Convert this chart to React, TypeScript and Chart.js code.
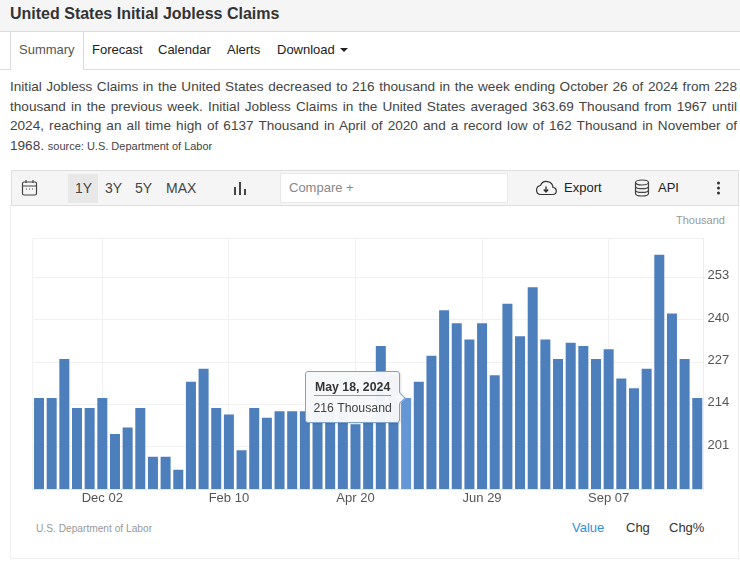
import { useEffect, useRef } from "react";
import Chart from "chart.js/auto";

const weeks = [
  "Oct 28", "Nov 04", "Nov 11", "Nov 18", "Nov 25", "Dec 02", "Dec 09", "Dec 16", "Dec 23", "Dec 30",
  "Jan 06", "Jan 13", "Jan 20", "Jan 27", "Feb 03", "Feb 10", "Feb 17", "Feb 24", "Mar 02", "Mar 09",
  "Mar 16", "Mar 23", "Mar 30", "Apr 06", "Apr 13", "Apr 20", "Apr 27", "May 04", "May 11", "May 18",
  "May 25", "Jun 01", "Jun 08", "Jun 15", "Jun 22", "Jun 29", "Jul 06", "Jul 13", "Jul 20", "Jul 27",
  "Aug 03", "Aug 10", "Aug 17", "Aug 24", "Aug 31", "Sep 07", "Sep 14", "Sep 21", "Sep 28", "Oct 05",
  "Oct 12", "Oct 19", "Oct 26",
];

const claims = [
  216, 216, 228, 213, 213, 216, 205, 207, 213, 198,
  198, 194, 221, 225, 213, 211, 200, 213, 210, 212,
  212, 212, 212, 212, 212, 208, 209, 232, 223, 216,
  221, 229, 243, 239, 234, 239, 223, 245, 235, 250,
  234, 228, 233, 232, 228, 231, 222, 219, 225, 260,
  242, 228, 216,
];

const xTicks = ["Dec 02", "Feb 10", "Apr 20", "Jun 29", "Sep 07"];
const yTicks = [201, 214, 227, 240, 253];
const hoverWeek = "May 18";

const summaryLines = [
  "Initial Jobless Claims in the United States decreased to 216 thousand in the week ending October 26 of 2024 from 228",
  "thousand in the previous week. Initial Jobless Claims in the United States averaged 363.69 Thousand from 1967 until",
  "2024, reaching an all time high of 6137 Thousand in April of 2020 and a record low of 162 Thousand in November of",
];

const FONT = '"Liberation Sans", Arial, sans-serif';

const frame = {
  id: "frame",
  beforeDatasetsDraw(chart: any) {
    const { ctx, chartArea: a } = chart;
    ctx.save();
    ctx.strokeStyle = "#f1f1f1";
    ctx.lineWidth = 1;
    ctx.beginPath();
    ctx.moveTo(a.left, a.bottom);
    ctx.lineTo(a.left, a.top);
    ctx.lineTo(a.right, a.top);
    ctx.stroke();
    ctx.restore();
  },
};

function place(left: number, top: number, extra: any = {}): any {
  return { position: "absolute", left, top, whiteSpace: "nowrap", ...extra };
}

export default function App() {
  const canvasRef = useRef<HTMLCanvasElement>(null);
  const tipRef = useRef<HTMLDivElement>(null);

  useEffect(() => {
    if (!canvasRef.current) return;
    const active = weeks.indexOf(hoverWeek);
    const chart = new Chart(canvasRef.current, {
      type: "bar",
      data: {
        labels: weeks,
        datasets: [
          {
            data: claims,
            backgroundColor: claims.map((_, i) => (i === active ? "#6497d3" : "#4c7fbc")),
            hoverBackgroundColor: claims.map((_, i) => (i === active ? "#6497d3" : "#4c7fbc")),
            barPercentage: 0.79,
            categoryPercentage: 1,
          },
        ],
      },
      plugins: [frame],
      options: {
        responsive: true,
        maintainAspectRatio: false,
        animation: false,
        layout: { padding: { left: 20.7, top: 30.5, right: 0, bottom: 0 } },
        plugins: { legend: { display: false }, tooltip: { enabled: false } },
        scales: {
          x: {
            afterFit: (s: any) => { s.height = 29; },
            grid: {
              offset: false,
              drawTicks: false,
              color: (c: any) => (xTicks.includes(weeks[c.index]) ? "#f1f1f1" : "rgba(0,0,0,0)"),
            },
            border: { color: "#e6e6e6" },
            ticks: {
              autoSkip: false,
              maxRotation: 0,
              padding: 2,
              color: "#555",
              font: { family: FONT, size: 13 },
              callback(this: any, v: any) {
                const label = this.getLabelForValue(v);
                return xTicks.includes(label) ? label : "";
              },
            },
          },
          y: {
            position: "right",
            min: 188.1,
            max: 265,
            afterBuildTicks: (s: any) => { s.ticks = yTicks.map((value) => ({ value })); },
            afterFit: (s: any) => { s.width = 34.4; },
            grid: { drawTicks: false, color: "#f1f1f1" },
            border: { color: "#ececec" },
            ticks: {
              padding: 4,
              labelOffset: -2,
              color: "#555",
              font: { family: FONT, size: 13 },
            },
          },
        },
      },
    });

    // hovered bar's tooltip, hung off the bar's own position
    const bar: any = chart.getDatasetMeta(0).data[active];
    if (tipRef.current && bar) {
      tipRef.current.style.left = 12 + bar.x - 101 + "px";
      tipRef.current.style.top = 208 + bar.y - 27 + "px";
      tipRef.current.style.display = "block";
    }

    return () => chart.destroy();
  }, []);

  return (
    <div style={{ position: "absolute", left: 0, top: 0, width: 740, height: 567, overflow: "hidden", background: "#fff", fontFamily: FONT, color: "#333" }}>
      {/* Header */}
      <div style={{ position: "absolute", left: 0, top: 0, width: 740, height: 31, background: "#f5f5f5", borderBottom: "1px solid #dcdcdc" }} />
      <div style={place(10, 4, { fontSize: 16, fontWeight: 700, lineHeight: "20px", color: "#333" })}>United States Initial Jobless Claims</div>

      {/* Tabs */}
      <div style={{ position: "absolute", left: 0, top: 69, width: 740, height: 1, background: "#dcdcdc" }} />
      <div style={{ position: "absolute", left: 10, top: 32, width: 72, height: 38, background: "#fff", borderLeft: "1px solid #dcdcdc", borderRight: "1px solid #dcdcdc" }} />
      <div style={place(19, 41, { fontSize: 13, lineHeight: "18px", color: "#555" })}>Summary</div>
      <div style={place(92, 41, { fontSize: 13, lineHeight: "18px", color: "#222" })}>Forecast</div>
      <div style={place(158, 41, { fontSize: 13, lineHeight: "18px", color: "#222" })}>Calendar</div>
      <div style={place(227, 41, { fontSize: 13, lineHeight: "18px", color: "#222" })}>Alerts</div>
      <div style={place(277, 41, { fontSize: 13, lineHeight: "18px", color: "#222" })}>Download</div>
      <div style={{ position: "absolute", left: 340, top: 48, width: 0, height: 0, borderLeft: "4px solid transparent", borderRight: "4px solid transparent", borderTop: "4px solid #222" }} />

      {/* Description */}
      <div style={{ position: "absolute", left: 10, top: 77, width: 727, fontSize: 13.6, lineHeight: "19.6px", color: "#444" }}>
        {summaryLines.map((line) => (
          <div key={line} style={{ textAlign: "justify", textAlignLast: "justify", whiteSpace: "normal" }}>{line}</div>
        ))}
        <div>1968. <span style={{ fontSize: 11 }}>source: U.S. Department of Labor</span></div>
      </div>

      {/* Panel and toolbar */}
      <div style={{ position: "absolute", left: 10, top: 205, width: 727, height: 352, border: "1px solid #f0f0f0" }} />
      <div style={{ position: "absolute", left: 11, top: 170, width: 726, height: 34, background: "#f5f5f5", border: "1px solid #dedede" }} />
      <svg style={{ position: "absolute", left: 21, top: 179 }} width="18" height="18" viewBox="0 0 18 18" fill="none" stroke="#444" strokeWidth="1.2">
        <rect x="1.5" y="3" width="14" height="13" rx="1.5" />
        <path d="M1.5 7h14M5 1v3M12 1v3M5 10h1M8 10h1M11 10h1" />
      </svg>
      <div style={{ position: "absolute", left: 68, top: 174, width: 30, height: 29, background: "#e8e8e8" }} />
      <div style={place(75, 180, { fontSize: 14, lineHeight: "17px", color: "#444" })}>1Y</div>
      <div style={place(105, 180, { fontSize: 14, lineHeight: "17px", color: "#444" })}>3Y</div>
      <div style={place(135, 180, { fontSize: 14, lineHeight: "17px", color: "#444" })}>5Y</div>
      <div style={place(166, 180, { fontSize: 14, lineHeight: "17px", color: "#444" })}>MAX</div>
      <svg style={{ position: "absolute", left: 233, top: 181 }} width="15" height="15" viewBox="0 0 15 15" fill="#444">
        <rect x="1" y="6" width="2" height="8" />
        <rect x="6" y="1" width="2" height="13" />
        <rect x="11" y="8" width="2" height="6" />
      </svg>
      <div style={{ position: "absolute", left: 280, top: 173, width: 226, height: 28, background: "#fff", border: "1px solid #e8e8e8" }} />
      <div style={place(289, 179, { fontSize: 13, lineHeight: "17px", color: "#888" })}>Compare +</div>
      <svg style={{ position: "absolute", left: 535, top: 180 }} width="22" height="16" viewBox="0 0 22 16" fill="none" stroke="#333" strokeWidth="1.2">
        <path d="M5 14.5h12.5a3.5 3.5 0 0 0 .5-7 6.5 6.5 0 0 0-12.5-2A4.6 4.6 0 0 0 5 14.5z" />
        <path d="M11 6.5v5M8.8 9.5L11 12l2.2-2.5" strokeWidth="1.4" />
      </svg>
      <div style={place(564, 179, { fontSize: 13, lineHeight: "17px", color: "#222" })}>Export</div>
      <svg style={{ position: "absolute", left: 634, top: 179 }} width="16" height="18" viewBox="0 0 16 18" fill="none" stroke="#444" strokeWidth="1.2">
        <ellipse cx="8" cy="3.5" rx="6.5" ry="2.5" />
        <path d="M1.5 3.5v11c0 1.4 3 2.5 6.5 2.5s6.5-1.1 6.5-2.5v-11M1.5 7.2c0 1.4 3 2.5 6.5 2.5s6.5-1.1 6.5-2.5M1.5 10.9c0 1.4 3 2.5 6.5 2.5s6.5-1.1 6.5-2.5" />
      </svg>
      <div style={place(658, 179, { fontSize: 13, lineHeight: "17px", color: "#222" })}>API</div>
      <svg style={{ position: "absolute", left: 716, top: 181 }} width="5" height="14" viewBox="0 0 5 14" fill="#333">
        <circle cx="2.5" cy="2" r="1.5" />
        <circle cx="2.5" cy="7" r="1.5" />
        <circle cx="2.5" cy="12" r="1.5" />
      </svg>

      {/* Chart */}
      <div style={place(676, 213, { fontSize: 11, lineHeight: "14px", color: "#999" })}>Thousand</div>
      <div style={{ position: "absolute", left: 12, top: 208, width: 726, height: 310 }}>
        <canvas ref={canvasRef} />
      </div>

      {/* Tooltip */}
      <div ref={tipRef} style={{ position: "absolute", display: "none", width: 95, height: 52, boxSizing: "border-box", background: "rgba(247,248,250,0.97)", border: "1px solid #7fa3cc", borderRadius: 3, boxShadow: "1px 1px 2px rgba(0,0,0,0.12)" }}>
        <div style={{ position: "absolute", left: 90, top: 22, width: 7, height: 7, background: "#f7f8fa", borderTop: "1px solid #7fa3cc", borderRight: "1px solid #7fa3cc", transform: "rotate(45deg)" }} />
        <div style={{ position: "absolute", left: 8, top: 7, width: 77, textAlign: "center", fontSize: 12.3, fontWeight: 700, lineHeight: "16px", color: "#333", borderBottom: "1px solid #999", whiteSpace: "nowrap" }}>May 18, 2024</div>
        <div style={{ position: "absolute", left: 0, top: 28, width: 93, textAlign: "center", fontSize: 12.3, lineHeight: "16px", color: "#444", whiteSpace: "nowrap" }}>216 Thousand</div>
      </div>

      {/* Footer */}
      <div style={place(36, 522, { fontSize: 10.2, lineHeight: "14px", color: "#999" })}>U.S. Department of Labor</div>
      <div style={place(572, 520, { fontSize: 13, lineHeight: "16px", color: "#2f8fdd" })}>Value</div>
      <div style={place(626, 520, { fontSize: 13, lineHeight: "16px", color: "#333" })}>Chg</div>
      <div style={place(669, 520, { fontSize: 13, lineHeight: "16px", color: "#333" })}>Chg%</div>
    </div>
  );
}
